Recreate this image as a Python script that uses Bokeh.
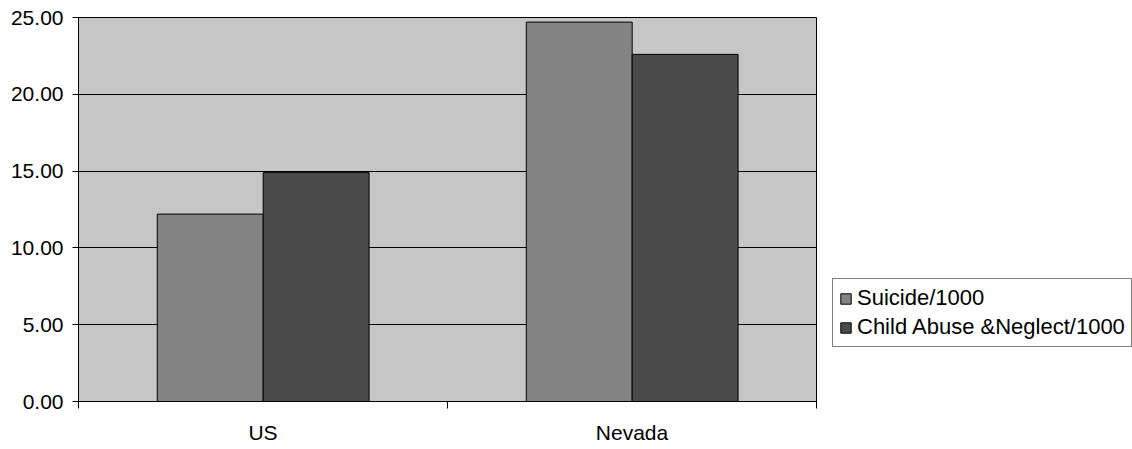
from bokeh.plotting import figure
from bokeh.models import (ColumnDataSource, FixedTicker, NumeralTickFormatter,
                          Legend, LegendItem, Range1d)
from bokeh.embed import file_html
from bokeh.resources import INLINE

# Rates per 1000
categories = ["US", "Nevada"]
suicide = [12.2, 24.7]
abuse = [14.9, 22.6]
series_names = ["Suicide/1000", "Child Abuse &Neglect/1000"]
y_ticks = [0, 5, 10, 15, 20, 25]

FONT = "Liberation Sans"
BAR_W = 0.287

centers = [i + 0.5 for i in range(len(categories))]
src = ColumnDataSource(dict(
    x1=[c - 0.143 for c in centers],
    x2=[c + 0.144 for c in centers],
    suicide=suicide,
    abuse=abuse,
))

p = figure(frame_width=738, frame_height=384, output_backend="svg",
           toolbar_location=None,
           x_range=Range1d(0, len(categories)), y_range=Range1d(0, 25))
p.min_border_left = 78
p.min_border_right = 0
p.min_border_top = 17
p.min_border_bottom = 48

p.background_fill_color = "#c6c6c6"
p.border_fill_color = "white"
p.outline_line_color = "black"
p.outline_line_width = 1

# Gridlines only on y
p.xgrid.visible = False
p.ygrid.ticker = FixedTicker(ticks=y_ticks)
p.ygrid.grid_line_color = "black"
p.ygrid.grid_line_width = 1

r1 = p.vbar(x="x1", top="suicide", width=BAR_W, source=src,
            fill_color="#838383", line_color="black", line_width=1)
r2 = p.vbar(x="x2", top="abuse", width=BAR_W, source=src,
            fill_color="#4a4a4a", line_color="black", line_width=1)

# Y axis
ya = p.yaxis[0]
ya.ticker = FixedTicker(ticks=y_ticks, minor_ticks=[])
ya.formatter = NumeralTickFormatter(format="0.00")
ya.major_label_text_font = FONT
ya.major_label_text_font_size = "21px"
ya.major_label_text_color = "black"
ya.major_tick_out = 6
ya.major_tick_in = 0
ya.minor_tick_out = 0
ya.major_label_standoff = 9
ya.axis_line_color = "black"
ya.major_tick_line_color = "black"

# X axis: labels at category centers, tick marks on category boundaries
xa = p.xaxis[0]
xa.ticker = FixedTicker(ticks=centers,
                        minor_ticks=list(range(len(categories) + 1)))
xa.major_label_overrides = {c: name for c, name in zip(centers, categories)}
xa.major_label_text_font = FONT
xa.major_label_text_font_size = "21px"
xa.major_label_text_color = "black"
xa.major_tick_out = 0
xa.major_tick_in = 0
xa.minor_tick_out = 7
xa.minor_tick_in = 0
xa.minor_tick_line_color = "black"
xa.major_label_standoff = 12
xa.axis_line_color = "black"

legend = Legend(items=[LegendItem(label=series_names[0], renderers=[r1]),
                       LegendItem(label=series_names[1], renderers=[r2])],
                location=(16, 54))
legend.border_line_color = "black"
legend.border_line_width = 1
legend.background_fill_color = "white"
legend.background_fill_alpha = 1
legend.label_text_font = FONT
legend.label_text_font_size = "22px"
legend.label_text_color = "black"
legend.glyph_width = 13
legend.glyph_height = 13
legend.label_standoff = 5
legend.padding = 6
legend.spacing = 3
legend.margin = 0
p.add_layout(legend, "right")

open("out.html", "w").write(file_html(p, INLINE))
